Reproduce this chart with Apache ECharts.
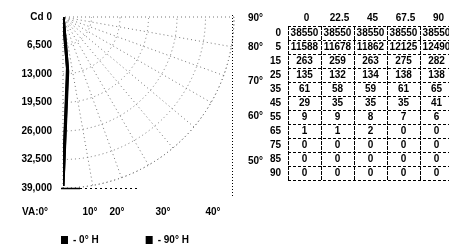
<!DOCTYPE html>
<html><head><meta charset="utf-8">
<script src="https://cdn.jsdelivr.net/npm/echarts@6/dist/echarts.min.js"></script>
<style>html,body{margin:0;padding:0;background:#fff}#c{width:449px;height:248px}</style>
</head><body><div id="c"></div>
<script>
// ---- data ----
const verticalAngles = [0, 5, 15, 25, 35, 45, 55, 65, 75, 85, 90];
const horizontalAngles = ['0', '22.5', '45', '67.5', '90'];
const cdH0 = [38550, 11588, 263, 135, 61, 29, 9, 1, 0, 0, 0];
const cdH225 = [38550, 11678, 259, 132, 58, 35, 9, 1, 0, 0, 0];
const cdH45 = [38550, 11862, 263, 134, 59, 35, 8, 2, 0, 0, 0];
const cdH675 = [38550, 12125, 275, 138, 61, 35, 7, 0, 0, 0, 0];
const cdH90 = [38550, 12490, 282, 138, 65, 41, 6, 0, 0, 0, 0];
const radialTicks = [0, 6500, 13000, 19500, 26000, 32500, 39000];
const radialLabels = ['Cd 0', '6,500', '13,000', '19,500', '26,000', '32,500', '39,000'];
const bottomAngleLabels = ['VA:0°', '10°', '20°', '30°', '40°'];
const sideAngleLabels = ['90°', '80°', '70°', '60°', '50°'];
const seriesNames = ['0° H', '90° H'];

const FONT = 'bold 10px "Liberation Sans", Arial, sans-serif';
const chart = echarts.init(document.getElementById('c'), null, {renderer: 'canvas'});

function txt(text, x, y, align) {
  return {type: 'text', x: x, y: y, z: 20,
    style: {text: text, font: FONT, fill: '#000', align: align, verticalAlign: 'middle',
            textAlign: align, textVerticalAlign: 'middle'}};
}
function ln(x1, y1, x2, y2, dash, w) {
  return {type: 'line', z: 15, shape: {x1: x1, y1: y1, x2: x2, y2: y2},
    style: {stroke: '#000', lineWidth: w || 1, lineDash: dash || null}};
}

const graphics = [];
const bottomX = [35, 90, 117, 163, 213];
bottomAngleLabels.forEach((t, i) => graphics.push(txt(t, bottomX[i], 212, 'center')));
const sideY = [18, 47, 81, 116, 161];
sideAngleLabels.forEach((t, i) => graphics.push(txt(t, 248, sideY[i], 'left')));
graphics.push(ln(232.5, 15, 232.5, 197, [1, 2]));
graphics.push(ln(61, 188.5, 80, 188.5, null, 1.5));
graphics.push(ln(80, 188.5, 140, 188.5, [2, 3]));

// table
const tX0 = 288, cw = 33, hdrY = 18, rowY0 = 33, rh = 14;
const cols = [cdH0, cdH225, cdH45, cdH675, cdH90];
horizontalAngles.forEach((h, j) => graphics.push(txt(h, tX0 + cw * j + cw / 2 + 2, hdrY, 'center')));
verticalAngles.forEach((v, i) => {
  const y = rowY0 + rh * i;
  graphics.push(txt(String(v), 281, y, 'right'));
  cols.forEach((col, j) => graphics.push(txt(String(col[i]), tX0 + cw * j + cw / 2, y, 'center')));
});
for (let i = 0; i <= verticalAngles.length; i++) {
  const y = rowY0 - rh / 2 + rh * i + 0.5;
  graphics.push(ln(tX0, y, 449, y, [3, 2]));
}
for (let j = 0; j < cols.length; j++) {
  const x = tX0 + cw * j + 0.5;
  graphics.push(ln(x, rowY0 - rh / 2, x, rowY0 - rh / 2 + rh * verticalAngles.length, [4, 1]));
}

const gridLine = {color: '#777', type: [1, 3], width: 1};
const option = {
  animation: false,
  backgroundColor: '#fff',
  polar: {center: [63, 17], radius: 171},
  angleAxis: {
    type: 'value', min: 0, max: 90, interval: 10,
    startAngle: 270, endAngle: 360, clockwise: false,
    axisLine: {show: true, lineStyle: gridLine},
    axisTick: {show: false},
    axisLabel: {show: false},
    splitLine: {show: true, lineStyle: gridLine}
  },
  radiusAxis: {
    type: 'value', min: 0, max: 39000, interval: 6500,
    axisLine: {show: false},
    axisTick: {show: false},
    axisLabel: {show: false},
    splitLine: {show: true, lineStyle: gridLine}
  },
  legend: {
    left: 56, top: 230, itemWidth: 7, itemHeight: 8, itemGap: 47, icon: 'rect',
    formatter: n => '- ' + n,
    textStyle: {color: '#000', fontWeight: 'bold', fontSize: 10, fontFamily: '"Liberation Sans", Arial, sans-serif'},
    data: seriesNames
  },
  series: [
    {name: seriesNames[0], type: 'line', coordinateSystem: 'polar', symbol: 'none',
     lineStyle: {color: '#000', width: 3}, itemStyle: {color: '#000'},
     data: verticalAngles.map((a, i) => [cdH0[i], a])},
    {name: seriesNames[1], type: 'line', coordinateSystem: 'polar', symbol: 'none',
     lineStyle: {color: '#000', width: 3}, itemStyle: {color: '#000'},
     data: verticalAngles.map((a, i) => [cdH90[i], a])}
  ],
  graphic: graphics
};
chart.setOption(option);
// radial tick labels placed via the polar scale, to the left of the vertical axis
const radial = radialTicks.map((v, i) => {
  const p = chart.convertToPixel({polarIndex: 0}, [v, 0]);
  return txt(radialLabels[i], p[0] - 11, p[1], 'right');
});
chart.setOption({graphic: graphics.concat(radial)});
</script></body></html>
